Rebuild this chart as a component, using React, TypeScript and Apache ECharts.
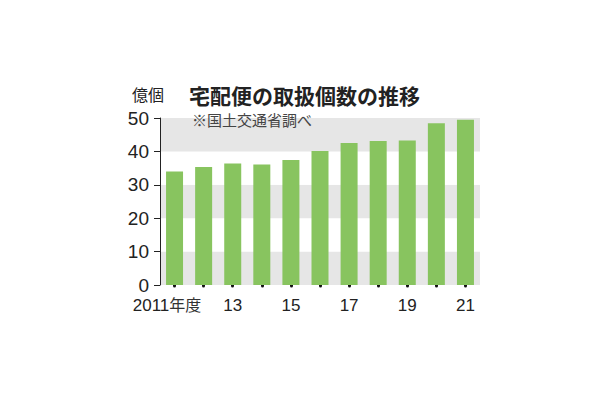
import React, { useEffect, useRef } from "react";
import * as echarts from "echarts";

const categories = ["2011", "12", "13", "14", "15", "16", "17", "18", "19", "20", "21"];
const tickLabels = ["2011", "", "13", "", "15", "", "17", "", "19", "", "21"];
const firstSuffix = "年度";
const values = [34.0, 35.3, 36.4, 36.1, 37.4, 40.1, 42.5, 43.1, 43.3, 48.4, 49.5];
const yTicks = [0, 10, 20, 30, 40, 50];
const title = "宅配便の取扱個数の推移";
const unit = "億個";
const source = "※国土交通省調べ";

const FONT = "'Noto Sans CJK JP', 'Noto Sans', sans-serif";
const NUM = "'Liberation Sans', sans-serif";

export default function App() {
  const ref = useRef<HTMLDivElement>(null);
  useEffect(() => {
    const chart = echarts.init(ref.current!, null, { renderer: "svg" });
    chart.setOption({
      animation: false,
      backgroundColor: "#fff",
      grid: { left: 160, right: 130, top: 118, bottom: 115 },
      graphic: [
        { type: "text", left: 132, top: 86, style: { text: unit, font: `16px ${FONT}`, fill: "#222" } },
        { type: "text", left: 189, top: 84, style: { text: title, font: `bold 21px ${FONT}`, fill: "#222" } },
        { type: "text", left: 192, top: 112, style: { text: source, font: `15px ${FONT}`, fill: "#444" }, z: 10 },
      ],
      xAxis: {
        type: "category",
        data: categories,
        offset: 3,
        axisLine: { show: false },
        axisTick: {
          show: true,
          alignWithLabel: true,
          length: 1,
          lineStyle: { color: "#111", width: 3, cap: "round" },
        },
        axisLabel: {
          interval: 0,
          margin: 7,
          fontSize: 17,
          lineHeight: 20,
          color: "#222",
          fontFamily: NUM,
          formatter: (_v: string, i: number) => {
            const t = tickLabels[i];
            if (i === 0) return `{first|${t}}{suf|${firstSuffix}}`;
            return `{n|${t}}`;
          },
          rich: {
            n: { fontSize: 17, lineHeight: 20, verticalAlign: "middle", color: "#222", fontFamily: NUM },
            first: { fontSize: 17, lineHeight: 20, verticalAlign: "middle", color: "#222", fontFamily: NUM },
            suf: {
              fontSize: 16,
              lineHeight: 20,
              verticalAlign: "middle",
              color: "#333",
              fontFamily: FONT,
              padding: [0, 15, 2, 0],
            },
          },
        },
      },
      yAxis: {
        type: "value",
        min: 0,
        max: 50,
        interval: 10,
        axisLine: { show: true, lineStyle: { color: "#222", width: 1 } },
        axisTick: { show: true, length: 6, lineStyle: { color: "#222" } },
        axisLabel: {
          margin: 11,
          fontSize: 19,
          color: "#222",
          fontFamily: NUM,
          formatter: (v: number) => (yTicks.includes(v) ? String(v) : ""),
        },
        splitLine: { show: false },
        splitArea: { show: true, areaStyle: { color: ["#e6e6e6", "#ffffff"] } },
      },
      series: [
        {
          type: "bar",
          data: values,
          barWidth: 17,
          itemStyle: { color: "#88c45f" },
        },
      ],
    });
    return () => chart.dispose();
  }, []);
  return <div ref={ref} style={{ width: 610, height: 400, margin: -8 }} />;
}
